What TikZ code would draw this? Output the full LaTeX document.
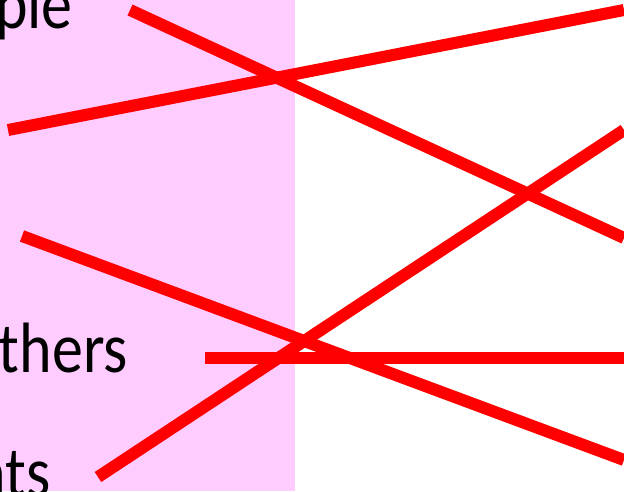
\documentclass[tikz,border=0pt]{standalone}
\usepackage{graphicx}
\usepackage{fontspec}
\setmainfont{Carlito}
\newcommand{\tallword}[1]{\scalebox{1}[1.15]{#1}}
\begin{document}
\begin{tikzpicture}[x=1pt,y=-1pt,
  redline/.style={draw=red,line width=12pt},
  lbl/.style={anchor=base east,inner sep=0pt,font=\fontsize{62}{70}\selectfont}]
\definecolor{pinkbg}{RGB}{255,204,255}
\useasboundingbox (0,0) rectangle (624,491);
\begin{scope}
\clip (0,0) rectangle (624,491);
\fill[pinkbg] (0,0) rectangle (295,491);
\node[lbl] (t1) at (73,28) {\tallword{ple}};
\node[lbl] (t2) at (128,372) {\tallword{thers}};
\node[lbl] (t3) at (51,496) {\tallword{nts}};
\coordinate (a1) at (130,10);  \coordinate (b1) at (624,238);
\coordinate (a2) at (8,130);   \coordinate (b2) at (624,10);
\coordinate (a3) at (22,236);  \coordinate (b3) at (624,460);
\coordinate (a4) at (205,358); \coordinate (b4) at (624,358);
\coordinate (a5) at (98,477);  \coordinate (b5) at (624,130);
\draw[redline] (a1) -- (b1);
\draw[redline] (a2) -- (b2);
\draw[redline] (a3) -- (b3);
\draw[redline] (a4) -- (b4);
\draw[redline] (a5) -- (b5);
\end{scope}
\end{tikzpicture}
\end{document}
